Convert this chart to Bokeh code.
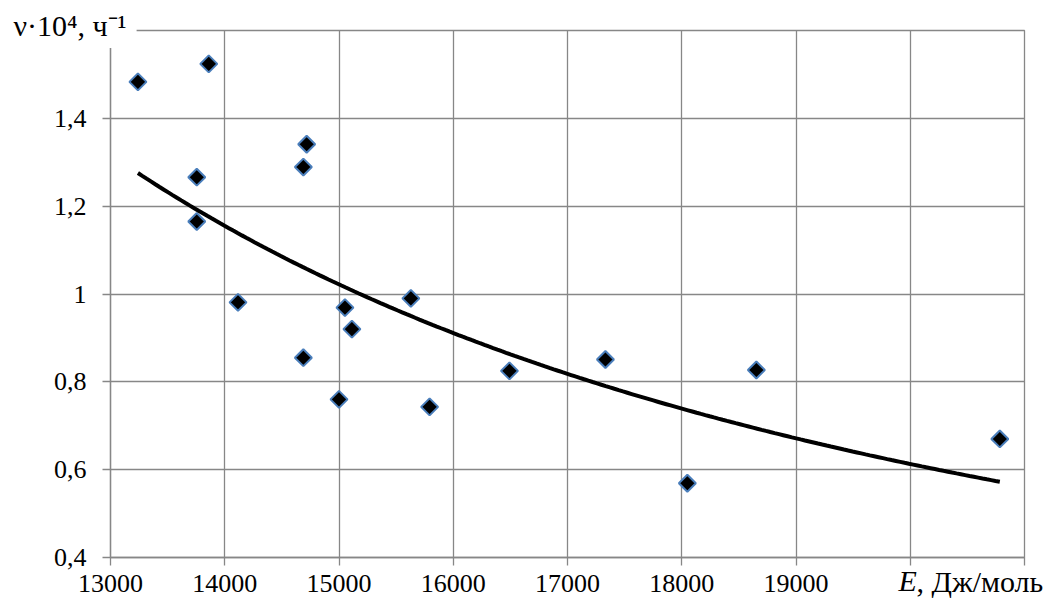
import numpy as np
from bokeh.plotting import figure
from bokeh.models import FixedTicker, Title, Range1d
from bokeh.embed import file_html
from bokeh.resources import INLINE

# Data
energy = [13240, 13860, 13755, 13755, 14116, 14717, 14688, 14688, 15000,
          15052, 15113, 15629, 15793, 16492, 17332, 18049, 18653, 20784]
rate = [1.483, 1.524, 1.266, 1.165, 0.981, 1.341, 1.289, 0.855, 0.760,
        0.969, 0.920, 0.990, 0.743, 0.825, 0.851, 0.569, 0.827, 0.670]

x_ticks = [13000, 14000, 15000, 16000, 17000, 18000, 19000, 20000, 21000]
x_tick_labels = ["13000", "14000", "15000", "16000", "17000", "18000", "19000", "", ""]
y_ticks = [0.4, 0.6, 0.8, 1.0, 1.2, 1.4, 1.6]
y_tick_labels = ["0,4", "0,6", "0,8", "1", "1,2", "1,4", ""]

x_title_italic = "E"
x_title_rest = ", Дж/моль"
y_title = "ν·10⁴, ч⁻¹"

FONT = "Liberation Serif"
GRID = "#878787"
FS = "26px"
FS_TITLE = "30px"

p = figure(width=1057, height=604, output_backend="svg", toolbar_location=None,
           x_range=Range1d(x_ticks[0], x_ticks[-1]), y_range=Range1d(y_ticks[0], y_ticks[-1]),
           min_border_left=110, min_border_right=33, min_border_top=30, min_border_bottom=47)
p.outline_line_color = GRID
p.outline_line_width = 1.3
p.background_fill_color = "white"
p.border_fill_color = "white"

for ax in (p.xaxis[0], p.yaxis[0]):
    ax.axis_line_color = GRID
    ax.axis_line_width = 1.3
    ax.major_tick_line_color = GRID
    ax.major_tick_line_width = 1.3
    ax.major_tick_out = 8
    ax.major_tick_in = 0
    ax.minor_tick_line_color = None
    ax.major_label_text_font = FONT
    ax.major_label_text_font_size = FS
    ax.major_label_text_color = "black"

p.xaxis[0].ticker = FixedTicker(ticks=x_ticks)
p.xaxis[0].major_label_overrides = {t: l for t, l in zip(x_ticks, x_tick_labels)}
p.xaxis[0].major_label_standoff = 9
p.yaxis[0].ticker = FixedTicker(ticks=y_ticks)
p.yaxis[0].major_label_overrides = {t: l for t, l in zip(y_ticks, y_tick_labels)}
p.yaxis[0].major_label_standoff = 16

p.xgrid[0].ticker = FixedTicker(ticks=x_ticks)
p.ygrid[0].ticker = FixedTicker(ticks=y_ticks)
for g in (p.xgrid[0], p.ygrid[0]):
    g.grid_line_color = GRID
    g.grid_line_width = 1.3

# data markers
p.scatter(energy, rate, marker="square", size=12, angle=np.pi / 4,
          fill_color="black", line_color="#4a7ebb", line_width=2)

# power trendline fitted to the data (as in the spreadsheet)
b, ln_a = np.polyfit(np.log(energy), np.log(rate), 1)
e_fit = np.linspace(min(energy), max(energy), 200)
v_fit = np.exp(ln_a) * e_fit ** b
p.line(e_fit, v_fit, line_color="black", line_width=4)


def pad(left, right, top, bottom):
    return dict(left=left, right=right, top=top, bottom=bottom)


common = dict(text_font=FONT, text_color="black", align="left", text_font_size=FS_TITLE)
p.add_layout(Title(text=y_title, offset=-103, standoff=-35, text_font_style="normal",
                   background_fill_color="white", padding=pad(6, 10, 6, 6), **common), "above")

for txt, off, style in ((x_title_italic, 788, "italic"), (x_title_rest, 806, "normal")):
    p.add_layout(Title(text=txt, offset=off, standoff=-66, text_font_style=style,
                       padding=pad(0, 0, 0, 32), **common), "below")

open("out.html", "w").write(file_html(p, INLINE))
